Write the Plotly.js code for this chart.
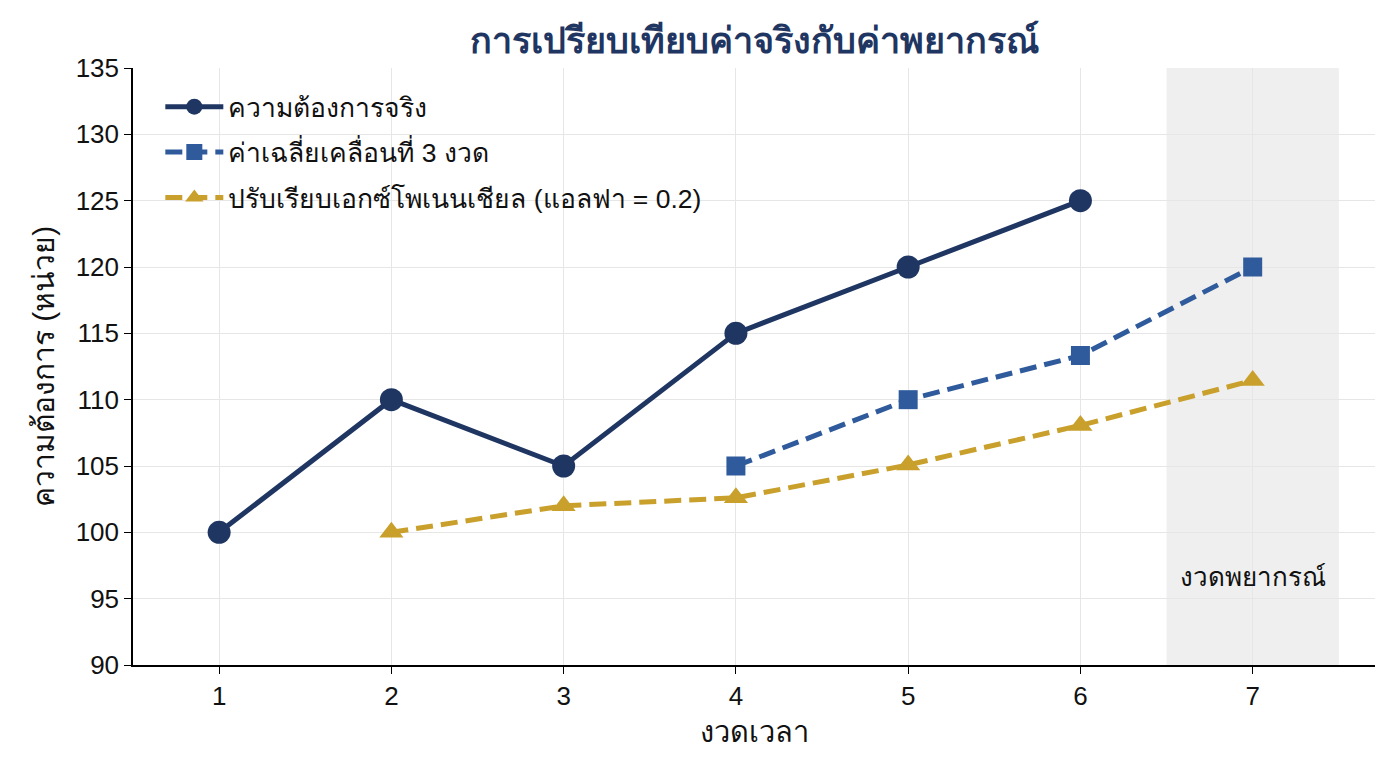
<!DOCTYPE html>
<html><head><meta charset="utf-8">
<script src="https://cdn.plot.ly/plotly-3.0.1.min.js"></script>
<style>html,body{margin:0;padding:0;background:#fff}#chart{width:1393px;height:768px}</style>
</head><body><div id="chart"></div>
<script>
const periods = [1, 2, 3, 4, 5, 6, 7];
const actualX = [1, 2, 3, 4, 5, 6];
const actual = [100, 110, 105, 115, 120, 125];
const maX = [4, 5, 6, 7];
const movingAvg = [105, 110, 113.33, 120];
const esX = [2, 3, 4, 5, 6, 7];
const expSmooth = [100, 102, 102.6, 105.08, 108.06, 111.45];
const yTicks = [90, 95, 100, 105, 110, 115, 120, 125, 130, 135];
const names = ['ความต้องการจริง', 'ค่าเฉลี่ยเคลื่อนที่ 3 งวด', 'ปรับเรียบเอกซ์โพเนนเชียล (แอลฟา = 0.2)'];

const font = '"Liberation Sans", Arial, "Noto Sans", sans-serif';
const traces = [
  {x: actualX, y: actual, name: names[0], legendgroup: 'a', mode: 'lines+markers',
   line: {color: '#1f3663', width: 5}, marker: {symbol: 'circle', size: 23, color: '#1f3663'}},
  {x: maX, y: movingAvg, name: names[1], legendgroup: 'b', mode: 'lines+markers',
   line: {color: '#2f5b9c', width: 5, dash: '17px,8px'}, marker: {symbol: 'square', size: 19, color: '#2f5b9c'}},
  {x: esX, y: expSmooth, name: names[2], legendgroup: 'c', mode: 'lines+markers',
   line: {color: '#c9a02c', width: 5, dash: '17px,8px'}, marker: {symbol: 'triangle-up', size: 21, color: '#c9a02c'}}
];
const layout = {
  width: 1393, height: 768,
  margin: {l: 133, r: 18, t: 68, b: 103},
  paper_bgcolor: '#fff', plot_bgcolor: '#fff',
  font: {family: font, color: '#111', size: 22},
  title: {text: '<b>การเปรียบเทียบค่าจริงกับค่าพยากรณ์</b>', xref: 'paper', x: 0.5, xanchor: 'center',
          y: 0.948, yanchor: 'middle', font: {size: 36, color: '#1f3663', family: font}},
  xaxis: {range: [0.5, 7.71], tickvals: periods, ticks: 'outside', ticklen: 7, tickcolor: '#000',
          showline: true, linecolor: '#000', linewidth: 1.5, showgrid: true, gridcolor: '#e6e6e6', zeroline: false,
          tickfont: {size: 26}, title: {text: 'งวดเวลา', font: {size: 29}, standoff: 12}},
  yaxis: {range: [90, 135], tickvals: yTicks, ticks: 'outside', ticklen: 7, tickcolor: '#000',
          showline: true, linecolor: '#000', linewidth: 1.5, showgrid: true, gridcolor: '#e6e6e6', zeroline: false,
          tickfont: {size: 26}, title: {text: 'ความต้องการ (หน่วย)', font: {size: 30}, standoff: 12}},
  legend: {x: 0.022, y: 0.975, xanchor: 'left', yanchor: 'top', bgcolor: 'rgba(255,255,255,0)',
           font: {size: 26.5}, itemwidth: 58, tracegroupgap: 8},
  shapes: [{type: 'rect', xref: 'x', yref: 'paper', x0: 6.5, x1: 7.5, y0: 0, y1: 1,
            fillcolor: '#efefef', line: {width: 0}, layer: 'below'}],
  annotations: [{x: 7, y: 96.6, xref: 'x', yref: 'y', text: 'งวดพยากรณ์', showarrow: false,
                 font: {size: 26, color: '#111'}}]
};
Plotly.newPlot('chart', traces, layout, {displayModeBar: false});
</script></body></html>
